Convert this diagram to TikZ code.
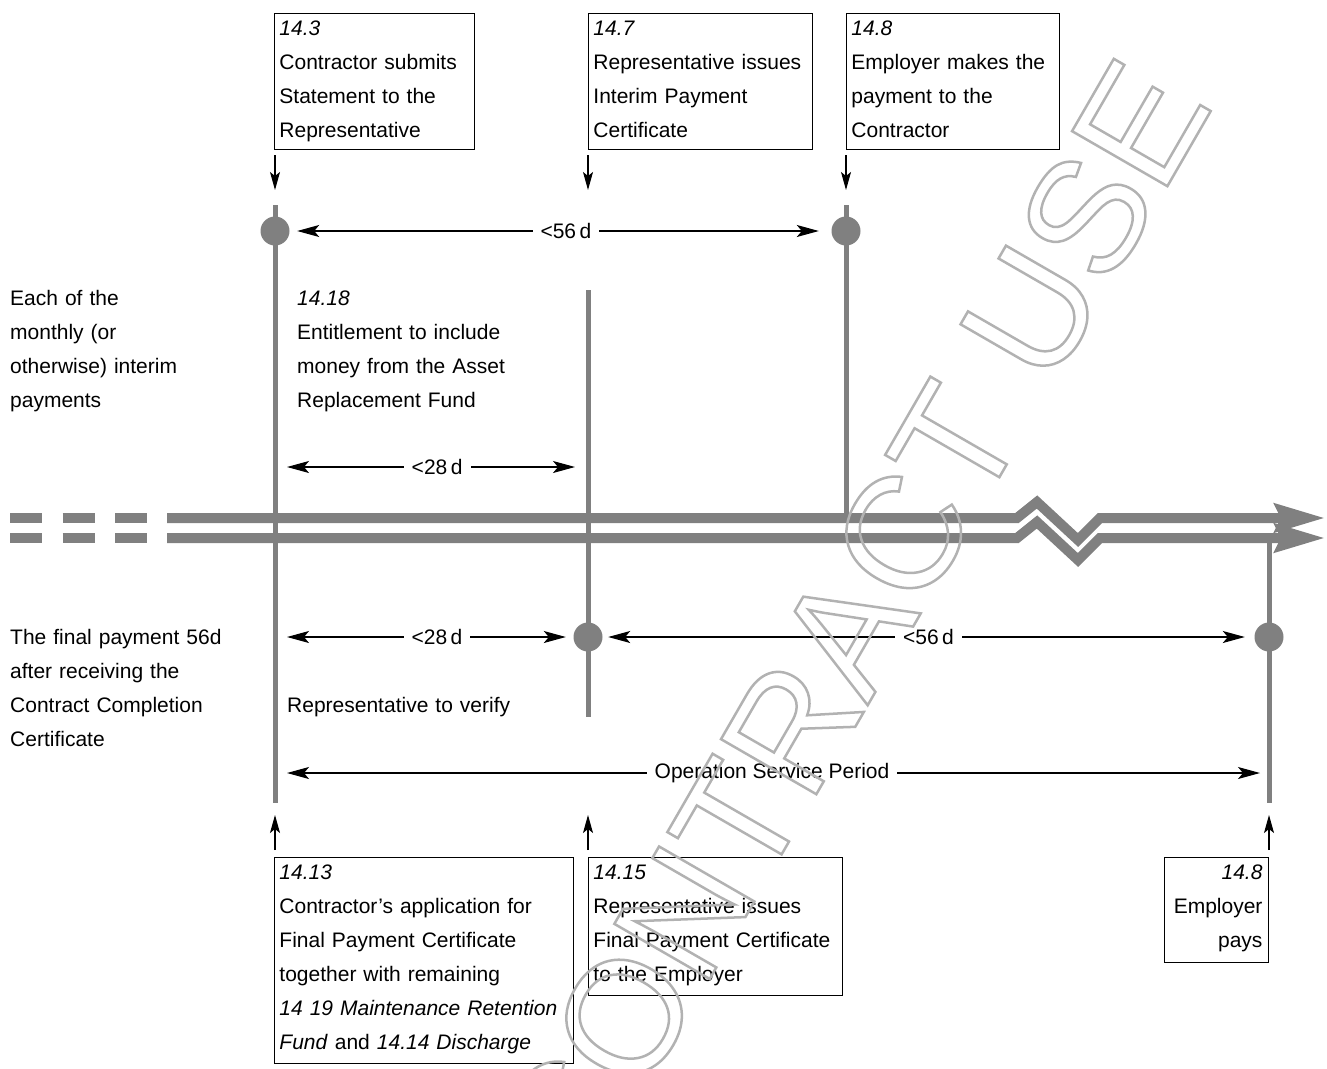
\documentclass[tikz,border=0pt]{standalone}
\usepackage{fontspec}
\setmainfont{Liberation Sans}
\newfontfamily\stampfont{Liberation Sans}
\usepackage{tikz}
\usetikzlibrary{arrows.meta}
\definecolor{bargray}{RGB}{128,128,128}
\definecolor{stampgray}{RGB}{178,178,178}
\newcommand{\outlinetext}[1]{\special{pdf:literal direct 1 Tr 2.5 w}#1\special{pdf:literal direct 0 Tr}}

\tikzset{
  bar/.style={draw=bargray, line width=10pt, line join=miter},
  bigtip/.style={-{Stealth[length=50pt, width=28pt, inset=6pt]}},
  vline/.style={draw=bargray, line width=5pt},
  dot/.style={circle, fill=bargray, minimum size=29pt, inner sep=0pt},
  dim/.style={{Stealth[length=22pt, width=12pt, inset=5pt]}-{Stealth[length=22pt, width=12pt, inset=5pt]}, line width=1.1pt},
  ptr/.style={-{Stealth[length=18pt, width=10pt, inset=4pt]}, line width=1.1pt},
  lbl/.style={fill=white, inner xsep=8pt, inner ysep=3pt},
  box/.style={draw, line width=0.9pt, inner xsep=5pt, inner ysep=0pt, text height=22pt, align=left, anchor=north west},
  txt/.style={inner sep=0pt, align=left, anchor=base west, text width=260pt},
}

\begin{document}
\begin{tikzpicture}[x=1pt, y=-1pt, font=\fontsize{21}{34}\selectfont]
\useasboundingbox (0,0) rectangle (1327,1068);

% points in time
\coordinate (top1) at (275,205); \coordinate (bot1) at (275,803);
\coordinate (top2) at (588,290); \coordinate (bot2) at (588,717);
\coordinate (top3) at (846,205); \coordinate (bot3) at (846,518);
\coordinate (top4) at (1269,538); \coordinate (bot4) at (1269,803);
\draw[vline] (top1) -- (bot1);
\draw[vline] (top2) -- (bot2);
\draw[vline] (top3) -- (bot3);
\draw[vline] (top4) -- (bot4);

% broken time axis
\draw[bar, dash pattern=on 32pt off 20.5pt] (10,518) -- (147,518);
\draw[bar, dash pattern=on 32pt off 20.5pt] (10,538) -- (147,538);
\draw[bar, bigtip] (167,538) -- (1017,538) -- (1037,522) -- (1078,560) -- (1100,538) -- (1325,538);
\draw[bar, bigtip] (167,518) -- (1017,518) -- (1037,502) -- (1078,540) -- (1100,518) -- (1325,518);

\node[dot] (dot1) at (275,231) {};
\node[dot] (dot3) at (846,231) {};
\node[dot] (dot2) at (588,637) {};
\node[dot] (dot4) at (1269,637) {};

% periods
\draw[dim, shorten <=7.5pt, shorten >=12.5pt] (dot1) -- node[lbl, pos=0.51]{<56\,d} (dot3);
\coordinate (m1) at (275,467); \coordinate (m2) at (588,467);
\draw[dim, shorten <=12pt, shorten >=13pt] (m1) -- node[lbl, pos=0.518]{<28\,d} (m2);
\coordinate (f1) at (275,637);
\draw[dim, shorten <=12pt, shorten >=7.5pt] (f1) -- node[lbl, pos=0.543]{<28\,d} (dot2);
\draw[dim, shorten <=5.5pt, shorten >=9.5pt] (dot2) -- node[lbl]{<56\,d} (dot4);
\coordinate (s1) at (275,773); \coordinate (s4) at (1269,773);
\draw[dim, shorten <=12pt, shorten >=9pt] (s1) -- node[lbl]{Operation Service Period} (s4);

% clauses
\node[box, text width=190pt, text depth=114pt] (box1) at (274,13) {\textit{14.3}\\Contractor submits\\Statement to the\\Representative};
\node[box, text width=214pt, text depth=114pt] (box2) at (588,13) {\textit{14.7}\\Representative issues\\Interim Payment\\Certificate};
\node[box, text width=203pt, text depth=114pt] (box3) at (846,13) {\textit{14.8}\\Employer makes the\\payment to the\\Contractor};
\node[box, text width=289pt, text depth=184pt] (box4) at (274,857) {\textit{14.13}\\Contractor's application for\\Final Payment Certificate\\together with remaining\\\textit{14 19 Maintenance Retention}\\\textit{Fund} and \textit{14.14 Discharge}};
\node[box, text width=244pt, text depth=116pt] (box5) at (588,857) {\textit{14.15}\\Representative issues\\Final Payment Certificate\\to the Employer};
\node[box, text width=92pt, text depth=83pt, inner xsep=6pt, align=right] (box6) at (1164,857) {\textit{14.8}\\Employer\\pays};

\coordinate (p1) at (275,155); \coordinate (q1) at (275,190);
\coordinate (p2) at (588,155); \coordinate (q2) at (588,190);
\coordinate (p3) at (846,155); \coordinate (q3) at (846,190);
\draw[ptr] (p1) -- (q1);
\draw[ptr] (p2) -- (q2);
\draw[ptr] (p3) -- (q3);
\coordinate (p4) at (275,850); \coordinate (q4) at (275,815);
\coordinate (p5) at (588,850); \coordinate (q5) at (588,815);
\coordinate (p6) at (1269,850); \coordinate (q6) at (1269,815);
\draw[ptr] (p4) -- (q4);
\draw[ptr] (p5) -- (q5);
\draw[ptr] (p6) -- (q6);

% free text
\node[txt] (each) at (10,305) {Each of the\\monthly (or\\otherwise) interim\\payments};
\node[txt] (final) at (10,644) {The final payment 56d\\after receiving the\\Contract Completion\\Certificate};
\node[txt] (fund) at (297,305) {\textit{14.18}\\Entitlement to include\\money from the Asset\\Replacement Fund};
\node[txt] (verify) at (287,712) {Representative to verify};

% stamp
\node[rotate=60, text=stampgray] (stamp) at (851,624) {\stampfont\fontsize{160}{192}\selectfont\outlinetext{CONTRACT USE}};
\end{tikzpicture}
\end{document}
